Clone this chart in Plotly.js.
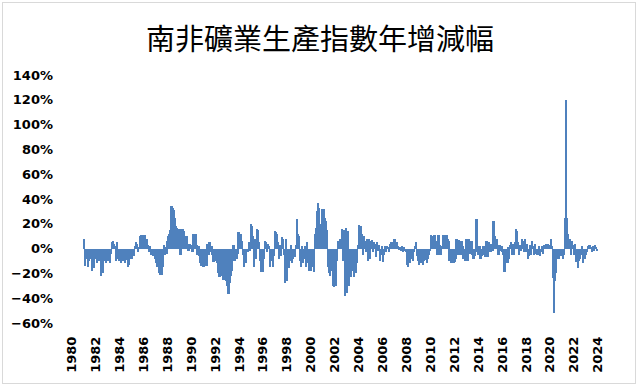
<!DOCTYPE html>
<html>
<head>
<meta charset="utf-8">
<script src="https://cdn.plot.ly/plotly-3.0.1.min.js"></script>
<style>
  html, body { margin: 0; padding: 0; background: #fff; }
  #wrap { position: relative; width: 640px; height: 386px; }
  #chart { width: 640px; height: 386px; }
  #frame { position: absolute; left: 2px; top: 2px; width: 632px; height: 380px; border: 1px solid #d9d9d9; pointer-events: none; }
</style>
</head>
<body>
<div id="wrap"><div id="chart"></div><div id="frame"></div></div>
<script>
// Monthly year-over-year change (%) of South Africa mining production index
const startYear = 1981;
const v1981 = [8, -14, -8, -6, -15, -10, -5, -8, -18, -12, -16, -8];
const v1982 = [-8, -12, -6, -10, -9, -22, -14, -20, -10, -7, -12, -9];
const v1983 = [-10, -6, -12, -4, 5, 6, 4, 2, -10, 5, -8, -10];
const v1984 = [-6, -12, -5, -10, -4, -12, -8, -9, -15, -13, -8, -5];
const v1985 = [-8, -4, -6, 2, 5, 4, -3, 1, 10, 11, 9, 11];
const v1986 = [10, 11, 7, 8, 3, -3, 2, -5, -3, -6, -5, -8];
const v1987 = [-12, -15, -10, -20, -21, -18, -21, -15, 3, -5, 1, -4];
const v1988 = [6, 10, 12, 15, 34, 33, 31, 25, 18, 17, 15, 16];
const v1989 = [16, -5, 15, 16, 14, 10, 8, 10, 3, -2, 4, 3];
const v1990 = [3, -3, 12, 10, 12, 3, -5, 2, -6, -12, -14, -8];
const v1991 = [-15, -12, -10, -14, 4, -5, 5, -3, 2, -5, -11, -9];
const v1992 = [-10, -8, -12, -20, -23, -18, -22, -15, -25, -20, -12, -26];
const v1993 = [-30, -37, -28, -22, -18, -5, 3, -10, -6, -8, -4, 13];
const v1994 = [13, 10, 12, 6, -5, -15, -8, -12, -3, -3, 5, -2];
const v1995 = [20, 18, 10, -15, 8, -8, 16, 15, 5, -10, -19, -12];
const v1996 = [-19, -8, 6, 5, -3, 4, 2, -15, -10, -5, -15, -6];
const v1997 = [14, 13, 12, 5, -8, 3, -6, 9, 8, -5, -28, 8];
const v1998 = [-26, -15, -16, -10, 3, -12, -8, -4, -7, 3, 24, 12];
const v1999 = [10, -10, -15, 2, -12, -8, 2, -15, 5, -12, -18, -10];
const v2000 = [-18, -10, -15, -19, 12, 17, 30, 37, 33, 17, 20, 32];
const v2001 = [30, 32, 25, 22, 15, -15, -20, -22, -18, -12, -30, -31];
const v2002 = [-25, -30, -10, 6, 2, 8, 3, 16, -10, 15, -38, 17];
const v2003 = [-36, 14, -30, -20, -23, -15, -18, -23, -15, -20, -12, 3];
const v2004 = [19, 15, 18, 12, -5, 10, 6, -3, 8, -10, 8, -8];
const v2005 = [6, 7, -3, 5, 4, -7, 5, -2, 3, -10, -5, 2];
const v2006 = [-11, -5, 2, -3, 2, 1, -3, 4, 5, 3, 5, 8];
const v2007 = [8, 4, 5, 2, -1, 1, -2, 2, -3, 1, -2, -3];
const v2008 = [-13, -15, -10, -12, -5, -8, -10, -3, 2, 5, -6, -10];
const v2009 = [-13, -10, -12, -8, -13, -10, -9, -6, -12, -8, -5, -2];
const v2010 = [11, 5, 10, 8, 11, 6, 5, -5, 11, 3, -5, 2];
const v2011 = [2, 11, 9, 4, 11, 8, 6, -10, -8, -12, -10, -12];
const v2012 = [-11, -8, 8, -5, 7, 3, -5, 6, 2, -8, -5, -10];
const v2013 = [8, -10, 8, 5, -4, 6, -5, -8, -6, -3, 24, -2];
const v2014 = [-5, 2, -8, -6, -3, 2, -5, -7, 6, -7, 5, 2];
const v2015 = [-3, 4, -2, 22, 10, 5, 8, 1, -5, 3, -2, 2];
const v2016 = [-3, -5, -19, -10, -8, -12, 1, -8, 3, 5, -5, 4];
const v2017 = [-5, 5, 16, 14, 5, -5, 3, -2, 8, 6, -3, 8];
const v2018 = [-3, 4, -8, -6, 3, -5, 6, 2, -5, 4, -4, -5];
const v2019 = [-5, 2, -6, -3, 2, -4, 3, 3, 4, 2, 4, 3];
const v2020 = [3, 8, 2, -24, -52, -26, -20, -8, -5, -8, -6, -5];
const v2021 = [-6, -8, -5, 25, 120, 25, 12, 5, 8, -5, 6, 3];
const v2022 = [-5, 4, -11, -9, -16, -10, -8, -5, 2, -12, -6, -8];
const v2023 = [-5, -3, 2, 3, 3, 1, -3, 2, -2, 3, 1, -2];

const yearly = [v1981, v1982, v1983, v1984, v1985, v1986, v1987, v1988, v1989, v1990,
  v1991, v1992, v1993, v1994, v1995, v1996, v1997, v1998, v1999, v2000,
  v2001, v2002, v2003, v2004, v2005, v2006, v2007, v2008, v2009, v2010,
  v2011, v2012, v2013, v2014, v2015, v2016, v2017, v2018, v2019, v2020,
  v2021, v2022, v2023];

const xs = [], ys = [];
yearly.forEach((arr, i) => {
  arr.forEach((v, m) => { xs.push(startYear + i + m / 12); ys.push(v); });
});

const tickFont = {family: 'DejaVu Sans', size: 13, weight: 'bold', color: '#000'};

Plotly.newPlot('chart', [{
  type: 'bar', x: xs, y: ys, width: 0.19,
  marker: {color: '#4F81BD', line: {width: 0}},
  hoverinfo: 'skip'
}], {
  width: 640, height: 386,
  margin: {l: 66, r: 36, t: 75, b: 63},
  paper_bgcolor: '#fff', plot_bgcolor: '#fff',
  bargap: 0, barmode: 'overlay',
  showlegend: false,
  title: {text: '南非礦業生產指數年增減幅', x: 0.5, xanchor: 'center', y: 0.896, yanchor: 'middle',
    font: {family: 'Noto Sans CJK TC', size: 29, color: '#000'}},
  xaxis: {range: [1979.5, 2024.5], tick0: 1980, dtick: 2, tickangle: -90,
    showgrid: false, zeroline: false, showline: false, ticks: '',
    tickfont: tickFont, ticklabelstandoff: 10},
  yaxis: {range: [-60, 140], tick0: -60, dtick: 20, ticksuffix: '%',
    showgrid: false, zeroline: false, showline: false, ticks: '',
    tickfont: tickFont, ticklabelstandoff: 12}
}, {displayModeBar: false, staticPlot: true});
</script>
</body>
</html>
